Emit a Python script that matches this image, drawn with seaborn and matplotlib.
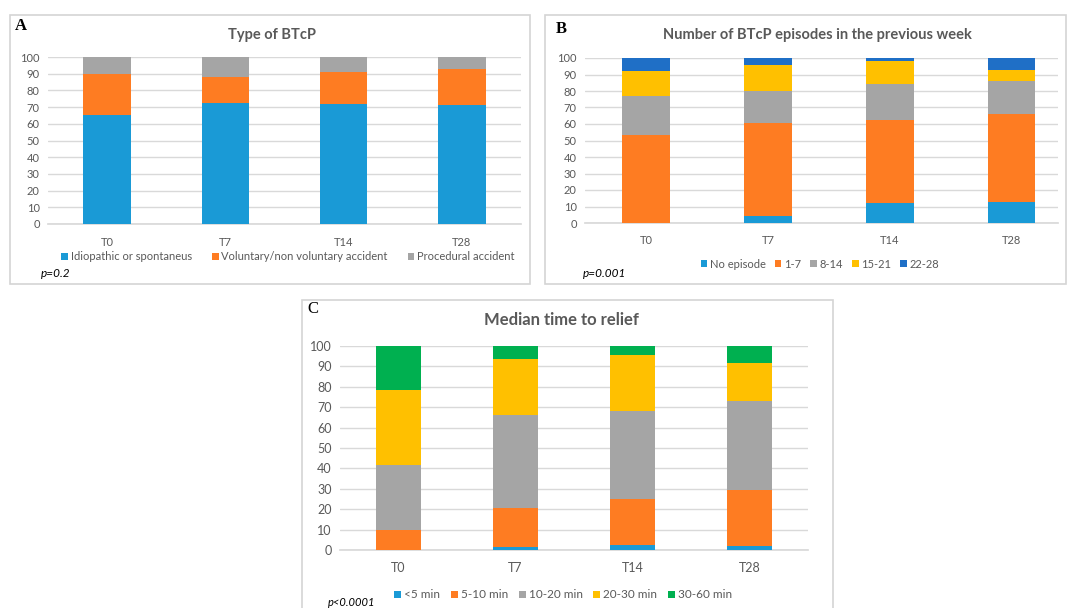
import matplotlib
matplotlib.use("Agg")
import matplotlib.pyplot as plt
from matplotlib.patches import Rectangle, Patch
import seaborn as sns
import pandas as pd
import numpy as np

# ---------------- data ----------------
times = ["T0", "T7", "T14", "T28"]

type_labels = ["Idiopathic or spontaneus", "Voluntary/non voluntary accident", "Procedural accident"]
type_idiopathic = [65, 72.5, 72, 71]
type_voluntary = [25, 15.5, 19, 22]
type_procedural = [10, 12, 9, 7]

ep_labels = ["No episode", "1-7", "8-14", "15-21", "22-28"]
ep_none = [0, 4, 12, 13]
ep_1_7 = [53.5, 56.5, 50.5, 53]
ep_8_14 = [23.5, 19.5, 21.5, 20]
ep_15_21 = [15, 15.5, 14, 7]
ep_22_28 = [8, 4.5, 2, 7]

rel_labels = ["<5 min", "5-10 min", "10-20 min", "20-30 min", "30-60 min"]
rel_lt5 = [0, 1.3, 2.5, 2]
rel_5_10 = [10, 19.3, 22.5, 27.5]
rel_10_20 = [31.5, 45.4, 43, 43.5]
rel_20_30 = [37, 27.5, 27.5, 18.5]
rel_30_60 = [21.5, 6.5, 4.5, 9]

C_BLUE = "#1A9AD6"
C_ORANGE = "#FE7C22"
C_GRAY = "#A5A5A5"
C_YELLOW = "#FFC000"
C_DBLUE = "#1F6FC6"
C_GREEN = "#00B050"
TXT = "#595959"

sns.set_theme(style="white")
plt.rcParams["font.family"] = ["Lato", "DejaVu Sans"]

W, H = 1072, 608
fig = plt.figure(figsize=(W / 100, H / 100), dpi=100)
fig.patch.set_facecolor("white")


def fx(x):
    return x / W


def fy(y):
    return 1 - y / H


def add_ax(l, t, r, b):
    return fig.add_axes([fx(l), fy(b), (r - l) / W, (b - t) / H])


def panel_box(l, t, r, b):
    fig.patches.append(Rectangle((fx(l), fy(b)), (r - l) / W, (b - t) / H,
                                 transform=fig.transFigure, fill=False,
                                 edgecolor="#D4D4D4", lw=1.2, zorder=0))


def stacked(ax, series, colors, width, fs, xlim):
    cum = np.cumsum(np.array(series, dtype=float), axis=0)
    for i in range(len(series) - 1, -1, -1):
        df = pd.DataFrame({"t": times, "v": cum[i]})
        sns.barplot(data=df, x="t", y="v", color=colors[i], width=width,
                    saturation=1, ax=ax, zorder=3, linewidth=0,
                    edgecolor="none")
    ax.set_ylim(0, 100)
    ax.set_xlim(*xlim)
    ax.set_yticks(range(0, 101, 10))
    ax.yaxis.grid(True, color="#D9D9D9", lw=1, zorder=0)
    ax.xaxis.grid(False)
    for s in ["top", "right", "left"]:
        ax.spines[s].set_visible(False)
    ax.spines["bottom"].set_color("#D9D9D9")
    ax.tick_params(axis="both", length=0, labelsize=fs, colors=TXT, pad=6)
    ax.tick_params(axis="x", pad=9)
    ax.set_xlabel("")
    ax.set_ylabel("")
    ax.set_facecolor("none")


def legend(labels, colors, x, y, fs, spacing):
    handles = [Patch(facecolor=c, edgecolor="none") for c in colors]
    fig.legend(handles, labels, loc="center", bbox_to_anchor=(fx(x), fy(y)),
               ncol=len(labels), frameon=False, fontsize=fs, labelcolor=TXT,
               handlelength=0.6, handleheight=0.6, handletextpad=0.25,
               columnspacing=spacing, borderaxespad=0)


# ---------------- Panel A ----------------
panel_box(10, 15, 530, 284)
axA = add_ax(48, 57, 521, 224)
stacked(axA, [type_idiopathic, type_voluntary, type_procedural],
        [C_BLUE, C_ORANGE, C_GRAY], 0.4, 8, (-0.5, 3.5))
fig.text(fx(272), fy(35), "Type of BTcP", ha="center", va="center",
         fontsize=10.5, fontweight="bold", color=TXT)
fig.text(fx(15), fy(26), "A", ha="left", va="center", fontsize=12,
         fontweight="bold", family="Liberation Serif", color="black")
legend(type_labels, [C_BLUE, C_ORANGE, C_GRAY], 288, 257, 8, 1.8)
fig.text(fx(41), fy(274), "p=0.2", ha="left", va="center", fontsize=8.5,
         style="italic", color="black")

# ---------------- Panel B ----------------
panel_box(545, 15, 1066, 284)
axB = add_ax(585, 58, 1058, 223)
stacked(axB, [ep_none, ep_1_7, ep_8_14, ep_15_21, ep_22_28],
        [C_BLUE, C_ORANGE, C_GRAY, C_YELLOW, C_DBLUE], 0.39, 8, (-0.5, 3.38))
fig.text(fx(817), fy(35), "Number of BTcP episodes in the previous week",
         ha="center", va="center", fontsize=10.5, fontweight="bold", color=TXT)
fig.text(fx(556), fy(29), "B", ha="left", va="center", fontsize=12,
         fontweight="bold", family="Liberation Serif", color="black")
legend(ep_labels, [C_BLUE, C_ORANGE, C_GRAY, C_YELLOW, C_DBLUE], 820, 264, 8, 0.8)
fig.text(fx(583), fy(274), "p=0.001", ha="left", va="center", fontsize=8.5,
         style="italic", color="black")

# ---------------- Panel C ----------------
panel_box(302, 300, 833, 612)
axC = add_ax(340, 346, 808, 550)
stacked(axC, [rel_lt5, rel_5_10, rel_10_20, rel_20_30, rel_30_60],
        [C_BLUE, C_ORANGE, C_GRAY, C_YELLOW, C_GREEN], 0.39, 9, (-0.5, 3.5))
fig.text(fx(561), fy(320), "Median time to relief", ha="center", va="center",
         fontsize=12, fontweight="bold", color=TXT)
fig.text(fx(307), fy(309), "C", ha="left", va="center", fontsize=12,
         family="Liberation Serif", color="black")
legend(rel_labels, [C_BLUE, C_ORANGE, C_GRAY, C_YELLOW, C_GREEN], 563, 595, 8.5, 0.9)
fig.text(fx(328), fy(603), "p<0.0001", ha="left", va="center", fontsize=8,
         style="italic", color="black")

fig.savefig("out.png", dpi=100, facecolor="white")
